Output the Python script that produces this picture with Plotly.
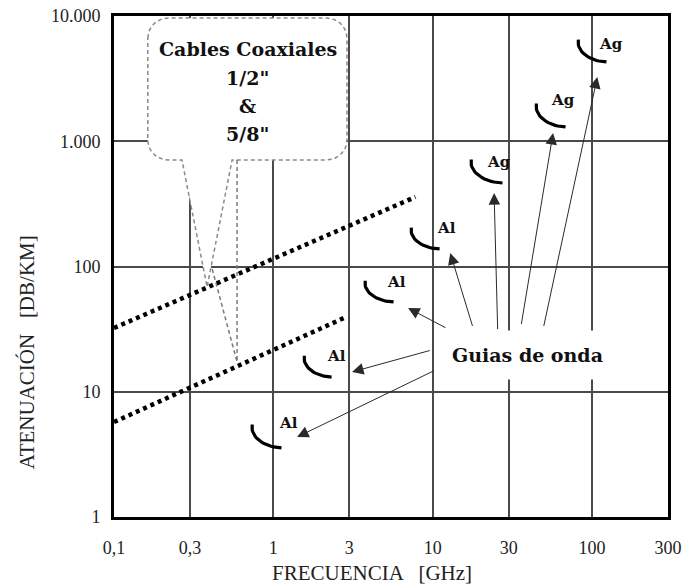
import numpy as np
import plotly.graph_objects as go

# ---------------- data ----------------
x_tickvals = [0.1, 0.3, 1, 3, 10, 30, 100, 300]
x_ticktext = ["0,1", "0,3", "1", "3", "10", "30", "100", "300"]
y_tickvals = [1, 10, 100, 1000, 10000]
y_ticktext = ["1", "10", "100", "1.000", "10.000"]

# coaxial cables (dotted lines)
coax_half_freq = [0.1, 7.8]
coax_half_att = [32.3, 359]
coax_58_freq = [0.1, 2.86]
coax_58_att = [5.73, 39.5]

# waveguide marks: arc start (f, a) and arc end (f, a)
wg_names = ["Al", "Al", "Al", "Al", "Ag", "Ag", "Ag"]
wg_f0 = [0.734, 1.56, 3.76, 7.32, 17.4, 44.6, 81.8]
wg_a0 = [5.23, 18.6, 73.8, 196, 683, 1911, 6198]
wg_f1 = [1.15, 2.37, 5.81, 11.3, 28.1, 69.8, 126]
wg_a1 = [3.56, 13.1, 52.1, 138, 464, 1300, 4295]
# label positions
lab_f = [1.25, 2.48, 5.89, 12.3, 26.1, 65.9, 132]
lab_a = [5.63, 19.3, 75.2, 203, 683, 2134, 5977]
# arrow tips and tails
tip_f = [1.41, 3.12, 7.01, 12.9, 24.3, 57.0, 108]
tip_a = [4.35, 14.4, 46.6, 128, 386, 1164, 3258]
tail_f = [10.4, 9.8, 12.3, 17.9, 25.6, 35.9, 49.6]
tail_a = [14.9, 21.5, 32.0, 32.6, 30.7, 33.8, 32.6]

guias_pos = (39.2, 19.7)

# callout box (data units)
box_left, box_right = 0.163, 2.90
box_top, box_bottom = 9640, 708
tail1_left, tail1_right = 0.267, 0.551
tail1_tip = (0.384, 68.6)
tail2_x = 0.592
tail2_from = (0.412, 97.3)
tail2_tip = (0.592, 17.3)

L = np.log10


def arc(cx, cy, rx, ry, t0, t1, n=12):
    t = np.linspace(t0, t1, n)
    return list(cx + rx * np.cos(t)), list(cy + ry * np.sin(t))


# rounded callout polygon built in log space
lx, rx_, ty, by = L(box_left), L(box_right), L(box_top), L(box_bottom)
crx, cry = 0.13, 0.16
px, py = [], []
a, b = arc(lx + crx, ty - cry, crx, cry, np.pi, np.pi / 2)
px += a; py += b
a, b = arc(rx_ - crx, ty - cry, crx, cry, np.pi / 2, 0)
px += a; py += b
a, b = arc(rx_ - crx, by + cry, crx, cry, 0, -np.pi / 2)
px += a; py += b
px += [L(tail1_right), L(tail1_tip[0]), L(tail1_left)]
py += [by, L(tail1_tip[1]), by]
a, b = arc(lx + crx, by + cry, crx, cry, -np.pi / 2, -np.pi)
px += a; py += b
px.append(px[0]); py.append(py[0])
cx_vals = [10 ** v for v in px]
cy_vals = [10 ** v for v in py]

fig = go.Figure()

fig.add_trace(go.Scatter(
    x=cx_vals, y=cy_vals, mode="lines", fill="toself", fillcolor="white",
    line=dict(color="#8a8a8a", width=1.5, dash="4px,3px"), hoverinfo="skip",
    showlegend=False))
fig.add_trace(go.Scatter(
    x=[tail2_x, tail2_tip[0], tail2_from[0]],
    y=[box_bottom, tail2_tip[1], tail2_from[1]],
    mode="lines", line=dict(color="#7a7a7a", width=1.5, dash="4px,3px"),
    hoverinfo="skip", showlegend=False))

for fr, at in [(coax_half_freq, coax_half_att), (coax_58_freq, coax_58_att)]:
    fig.add_trace(go.Scatter(
        x=fr, y=at, mode="lines",
        line=dict(color="black", width=4.5, dash="4px,4px"),
        hoverinfo="skip", showlegend=False))

for i in range(len(wg_names)):
    x0, y0, x1, y1 = L(wg_f0[i]), L(wg_a0[i]), L(wg_f1[i]), L(wg_a1[i])
    cxx, cyy = x1, y0
    rxx, ryy = x1 - x0, y0 - y1
    t = np.linspace(np.pi - 0.12, 1.5 * np.pi - 0.05, 20)
    ax_ = cxx + rxx * np.cos(t)
    ay_ = cyy + ryy * np.sin(t)
    fig.add_trace(go.Scatter(
        x=10 ** ax_, y=10 ** ay_, mode="lines",
        line=dict(color="black", width=3.2), hoverinfo="skip",
        showlegend=False))

serif = "Liberation Serif"
bserif = "DejaVu Serif"
bold_font = lambda s: dict(family=bserif, size=s, color="#111", weight="bold")
annotations = []
for i in range(len(wg_names)):
    annotations.append(dict(
        x=L(tip_f[i]), y=L(tip_a[i]), ax=L(tail_f[i]), ay=L(tail_a[i]),
        xref="x", yref="y", axref="x", ayref="y", text="", showarrow=True,
        arrowhead=2, arrowsize=2.3, arrowwidth=1, arrowcolor="#2a2a2a",
        standoff=0, startstandoff=0))
for i in range(len(wg_names)):
    annotations.append(dict(
        x=L(lab_f[i]), y=L(lab_a[i]), xref="x", yref="y", text=wg_names[i],
        showarrow=False, font=bold_font(15)))

annotations.append(dict(
    x=L(guias_pos[0]), y=L(guias_pos[1]), xref="x", yref="y",
    text="Guias de onda", showarrow=False, bgcolor="white",
    borderpad=13, font=bold_font(19)))

callout_lines = ["Cables Coaxiales", "1/2\"", "&", "5/8\""]
callout_y = [5500, 3200, 1900, 1150]
for txt, yy in zip(callout_lines, callout_y):
    annotations.append(dict(
        x=L(0.69), y=L(yy), xref="x", yref="y", text=txt,
        showarrow=False, font=bold_font(19)))

annotations.append(dict(
    x=0.466, y=-0.112, xref="paper", yref="paper",
    text="FRECUENCIA   [GHz]", showarrow=False,
    xanchor="center", yanchor="middle",
    font=dict(family=serif, size=21, color="#222")))
annotations.append(dict(
    x=-0.157, y=0.329, xref="paper", yref="paper",
    text="ATENUACIÓN   [DB/KM]", textangle=-90, showarrow=False,
    xanchor="center", yanchor="middle",
    font=dict(family=serif, size=21, color="#222")))

fig.update_layout(
    width=682, height=588,
    margin=dict(l=114, r=14, t=16, b=71, autoexpand=False),
    paper_bgcolor="white", plot_bgcolor="white",
    annotations=annotations,
    showlegend=False,
)
fig.update_xaxes(
    type="log", range=[L(0.1), L(300)], tickvals=x_tickvals, ticktext=x_ticktext,
    showgrid=True, gridcolor="#4a4a4a", gridwidth=1.5, zeroline=False,
    showline=True, linecolor="black", linewidth=3, mirror=True, ticks="",
    ticklabelstandoff=12, automargin=False,
    tickfont=dict(family=serif, size=18, color="#222"))
fig.update_yaxes(
    type="log", range=[0, 4], tickvals=y_tickvals, ticktext=y_ticktext,
    showgrid=True, gridcolor="#4a4a4a", gridwidth=1.5, zeroline=False,
    showline=True, linecolor="black", linewidth=3, mirror=True, ticks="",
    ticklabelstandoff=7, automargin=False,
    tickfont=dict(family=serif, size=18, color="#222"))

fig.write_html("out.html")
